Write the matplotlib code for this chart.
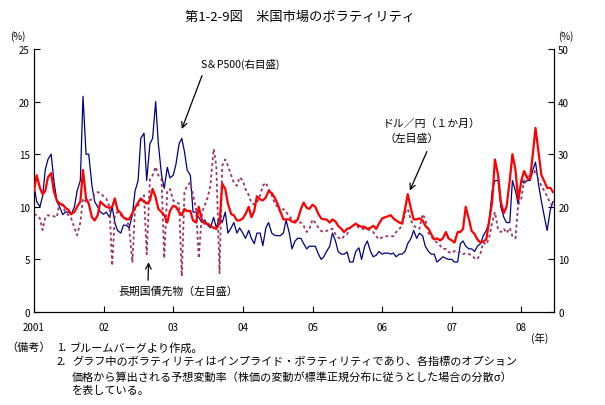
import pandas as pd
import matplotlib
matplotlib.use('Agg')
import matplotlib.pyplot as plt

plt.rcParams['font.family'] = ['Noto Sans CJK JP', 'DejaVu Sans']

# semi-monthly readings, Jan 2001 - Jun 2008
dates = pd.date_range('2001-01-01', periods=180, freq='SMS')

# S&P500 implied vol (right axis, %)
sp500 = [
    24, 21, 20, 22, 27, 29, 30, 25, 21, 20, 18.5, 19, 19, 18.5, 20, 23, 25, 41, 30, 30, 24, 21, 20, 19,
    18.6, 19, 18, 20, 17, 15.5, 15, 16.5, 16.5, 16, 18.5, 23, 25, 33, 34, 25, 32, 33, 40, 32, 26, 23.5, 27.5, 25.5,
    26, 28, 32, 33, 30.5, 27, 26, 19, 19, 18, 17, 17.5, 16.5, 16, 18, 16, 18, 17, 19, 15, 16, 17, 15, 16,
    15, 14, 15.5, 14, 13, 15, 15, 12.6, 16, 17, 15, 14.6, 14.5, 14.5, 15, 17.5, 15, 12, 13.5, 14, 14, 13, 12, 12.5,
    12.5, 12.5, 11, 10, 10.5, 11.5, 12.5, 15, 13.5, 11.5, 11, 11, 11.4, 9.5, 9.5, 11.5, 12.2, 10, 12.5, 13.5, 11.5, 10.5, 10.8, 11.5,
    11, 11.2, 11.2, 11, 11.2, 10.5, 11, 11, 11.5, 13, 14, 15.5, 14, 15, 14.5, 12.5, 11.5, 11, 11, 9.5, 10, 10.5, 10.2, 10,
    10, 9.5, 9.5, 13, 13.5, 12.5, 12, 12, 11.5, 12.5, 13, 14.5, 15.5, 17, 23, 25, 25, 20, 18, 17, 17, 25, 23, 20.5,
    25, 24.5, 25, 25, 27, 28.5, 24, 21, 18, 15.5, 19.5, 21,
]

# USD/JPY 1-month implied vol (left axis, %)
usdjpy = [
    11.5, 13, 11.8, 11.2, 11.5, 12.8, 13.2, 11.5, 10.6, 10.3, 10.2, 9.9, 9.7, 9.3, 9.5, 10, 10.5, 13.5, 10.8, 10.3, 9.0, 8.7, 9.2, 10.5,
    10.2, 10.0, 9.9, 10.0, 10.8, 9.7, 9.4, 9.0, 8.8, 8.8, 9.4, 9.9, 10.4, 10.8, 10.5, 10.3, 10.6, 11.7, 10.9, 9.8, 9.5, 9.2, 8.5, 9.6,
    10.1, 10.0, 9.5, 9.2, 9.8, 9.6, 9.6, 8.7, 8.5, 10.0, 8.7, 8.4, 8.4, 8.2, 8.0, 7.9, 8.4, 12.2, 11.7, 10.3, 9.3, 9.2, 8.7, 8.7,
    8.9, 9.3, 10.0, 9.0, 9.6, 11.0, 10.7, 10.6, 10.9, 11.5, 11.3, 10.9, 10.3, 9.6, 8.8, 8.8, 8.8, 8.6, 8.5, 8.8, 9.8, 10.4, 9.9, 9.8,
    10.2, 10.0, 9.3, 8.9, 8.8, 8.8, 8.5, 8.8, 8.6, 8.2, 7.9, 7.6, 7.9, 8.0, 8.2, 8.4, 8.2, 8.1, 8.1, 7.9, 8.0, 8.2, 7.9, 8.4,
    8.9, 9.0, 9.1, 9.2, 8.9, 8.7, 8.5, 8.4, 9.8, 11.2, 9.8, 8.8, 8.8, 8.9, 8.7, 8.2, 7.9, 7.4, 6.9, 7.0, 6.8, 7.0, 7.6, 7.0,
    6.8, 6.6, 7.6, 7.6, 7.9, 10.0, 8.8, 7.7, 7.4, 6.9, 6.6, 6.7, 6.9, 8.5, 10.5, 14.5, 13.0, 10.5, 9.4, 10.0, 12.5, 15.0, 13.5, 10.7,
    12.5, 13.4, 12.7, 12.6, 15.0, 17.5, 15.0, 13.0, 12.4, 11.8, 11.8, 11.4,
]

# long-term treasury futures implied vol (left axis, %)
bond = [
    9.3, 9.2, 8.9, 7.8, 9.0, 9.2, 9.1, 9.1, 9.0, 10.5, 10.0, 9.5, 9.2, 8.9, 8.0, 7.3, 8.5, 10.8, 10.5, 10.6, 10.7, 11.2, 11.4, 11.3,
    11.0, 10.8, 10.0, 4.4, 9.3, 9.5, 9.2, 9.0, 8.9, 8.0, 4.7, 9.9, 10.1, 10.6, 11.1, 5.5, 12.6, 13.0, 13.8, 13.0, 12.6, 5.1, 11.5, 11.7,
    10.6, 10.4, 10.3, 3.4, 11.4, 12.0, 12.3, 11.1, 9.8, 5.1, 9.5, 10.1, 10.9, 12.0, 15.5, 13.9, 3.7, 13.9, 14.5, 13.9, 13.0, 12.3, 12.0, 12.8,
    12.5, 11.7, 11.1, 10.4, 10.2, 10.4, 11.1, 12.0, 12.3, 11.7, 11.1, 10.4, 10.0, 9.5, 9.8, 9.5, 9.1, 8.8, 8.7, 8.5, 8.5, 8.2, 7.6, 7.9,
    8.8, 8.5, 8.0, 7.7, 7.6, 7.7, 7.9, 7.9, 7.4, 7.1, 6.9, 7.2, 7.4, 8.0, 8.2, 8.4, 8.0, 7.9, 7.9, 7.9, 7.7, 7.6, 7.2, 6.9,
    7.1, 7.2, 7.2, 7.2, 7.2, 7.6, 7.9, 8.2, 9.5, 9.8, 8.7, 8.2, 8.0, 7.9, 9.3, 8.8, 7.5, 7.2, 6.8, 6.6, 6.3, 6.0, 6.0, 5.7,
    5.6, 5.8, 5.6, 5.7, 5.5, 5.6, 5.5, 5.4, 5.1, 5.0, 5.6, 6.6, 6.4, 7.0, 8.5, 9.5, 7.8, 7.6, 7.9, 7.5, 8.0, 7.2, 7.0, 10.2,
    10.8, 12.5, 12.8, 13.2, 13.0, 13.5, 12.5, 12.0, 11.5, 11.0, 10.3, 10.2,
]

year_ticks = pd.to_datetime([f'{y}-01-01' for y in range(2001, 2009)])
year_labels = ['2001', '02', '03', '04', '05', '06', '07', '08']

fig = plt.figure(figsize=(6.05, 4.06), dpi=100)
ax = fig.add_axes([34 / 605, 93 / 406, 520 / 605, 263 / 406])
ax2 = ax.twinx()

ax.plot(dates, bond, color='#993366', lw=1.3, ls=(0, (1.6, 1.6)), zorder=2)
ax2.plot(dates, sp500, color='#000080', lw=0.9, zorder=3)
ax.plot(dates, usdjpy, color='#FF0000', lw=1.6, zorder=4)
ax.set_zorder(ax2.get_zorder() + 1)
ax.patch.set_visible(False)

ax.set_xlim(pd.Timestamp('2001-01-01'), pd.Timestamp('2008-06-20'))
ax.set_ylim(0, 25)
ax2.set_ylim(0, 50)
ax.set_yticks(range(0, 26, 5))
ax2.set_yticks(range(0, 51, 10))
ax.set_xticks(year_ticks)
ax.set_xticklabels(year_labels)

for a in (ax, ax2):
    a.spines['top'].set_visible(False)
    a.tick_params(direction='in', length=4, width=0.8, labelsize=7, pad=3)
ax.tick_params(axis='x', pad=7)

fig.text(300 / 605, 1 - 17 / 406, '第1-2-9図　米国市場のボラティリティ', ha='center', va='center', fontsize=9.5)
fig.text(18 / 605, 1 - 37 / 406, '(%)', ha='center', va='center', fontsize=7)
fig.text(566 / 605, 1 - 37 / 406, '(%)', ha='center', va='center', fontsize=7)
fig.text(540 / 605, 1 - 338 / 406, '(年)', ha='center', va='center', fontsize=7.5)

# annotations
ax2.annotate('', xy=(pd.Timestamp('2003-02-10'), 34.3), xytext=(203, 406 - 74),
             textcoords='figure pixels',
             arrowprops=dict(arrowstyle='->', color='black', lw=0.9))
fig.text(240 / 605, 1 - 64 / 406, 'S＆P500(右目盛)', ha='center', va='center', fontsize=7.6)

ax.annotate('', xy=(pd.Timestamp('2006-05-20'), 11.3), xytext=(428, 406 - 150),
            textcoords='figure pixels',
            arrowprops=dict(arrowstyle='->', color='black', lw=0.9))
fig.text(383 / 605, 1 - 124 / 406, 'ドル／円（１か月）', ha='left', va='center', fontsize=7.8)
fig.text(385 / 605, 1 - 139 / 406, '（左目盛）', ha='left', va='center', fontsize=7.8)

ax.annotate('', xy=(pd.Timestamp('2002-08-25'), 5.0), xytext=(148, 406 - 284),
            textcoords='figure pixels',
            arrowprops=dict(arrowstyle='->', color='black', lw=0.9))
fig.text(118 / 605, 1 - 292 / 406, '長期国債先物（左目盛）', ha='left', va='center', fontsize=7.8)

# notes
notes = [
    (6, 348, '（備考）'),
    (57, 348, '1.'),
    (70, 348, 'ブルームバーグより作成。'),
    (57, 362, '2.'),
    (72, 362, 'グラフ中のボラティリティはインプライド・ボラティリティであり、各指標のオプション'),
    (72, 377, '価格から算出される予想変動率（株価の変動が標準正規分布に従うとした場合の分散σ）'),
    (72, 391, 'を表している。'),
]
for x, y, s in notes:
    fig.text(x / 605, 1 - y / 406, s, ha='left', va='center', fontsize=8)

fig.savefig('out.png', dpi=100)
